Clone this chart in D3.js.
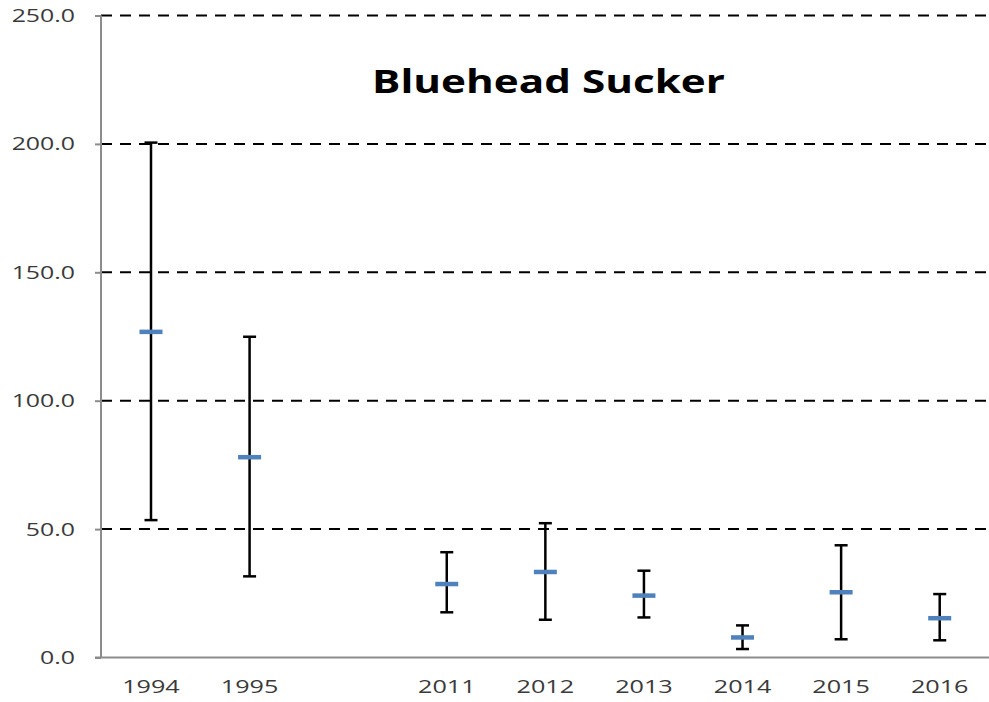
<!DOCTYPE html>
<html>
<head>
<meta charset="utf-8">
<script src="https://cdn.jsdelivr.net/npm/d3@7"></script>
<style>
  html, body { margin: 0; padding: 0; background: #ffffff; }
  svg { display: block; }
</style>
</head>
<body>
<svg id="chart" width="989" height="702"></svg>
<script>
// Bluehead Sucker: mean with upper/lower bounds per survey year
const categories = ["1994", "1995", "", "2011", "2012", "2013", "2014", "2015", "2016"];
const meanValues  = [126.9, 78.1, null, 28.7, 33.4, 24.2, 7.9, 25.5, 15.4];
const upperValues = [200.5, 124.9, null, 41.0, 52.3, 33.8, 12.5, 43.7, 24.7];
const lowerValues = [53.5, 31.6, null, 17.6, 14.7, 15.6, 3.3, 7.1, 6.7];
const yTicks = [0, 50, 100, 150, 200, 250];
const chartTitle = "Bluehead Sucker";

const rows = categories.map((c, i) => ({
  cat: c, mean: meanValues[i], hi: upperValues[i], lo: lowerValues[i]
})).filter(d => d.mean !== null);

const svg = d3.select("#chart");
const font = "'Open Sans', 'DejaVu Sans', sans-serif";

const x = d3.scaleBand().domain(categories).range([101.7, 989]);
const y = d3.scaleLinear().domain([0, 250]).range([657.5, 15.5]);

// dashed gridlines
svg.append("g")
  .selectAll("line")
  .data(yTicks.filter(t => t > 0))
  .join("line")
  .attr("x1", 101).attr("x2", 988)
  .attr("y1", d => y(d)).attr("y2", d => y(d))
  .attr("stroke", "#000").attr("stroke-width", 2)
  .attr("stroke-dasharray", "11,8");

// y axis
const yAxis = svg.append("g")
  .attr("transform", "translate(101,0)")
  .call(d3.axisLeft(y).tickValues(yTicks).tickSize(6).tickFormat(""));
yAxis.select(".domain").attr("stroke", "#8c8c8c").attr("stroke-width", 2)
  .attr("d", `M0,${y(250)}V${y(0)}`);
yAxis.selectAll(".tick line").attr("stroke", "#8c8c8c").attr("stroke-width", 2);

// y tick labels (wide letterforms)
svg.append("g")
  .selectAll("text")
  .data(yTicks)
  .join("text")
  .attr("transform", d => `translate(75,${y(d) + 6.5}) scale(1.38,1)`)
  .attr("text-anchor", "end")
  .attr("font-family", font).attr("font-size", 18)
  .attr("fill", "#3a3a3a")
  .text(d => d3.format(".1f")(d));

// x axis
const xAxis = svg.append("g")
  .attr("transform", `translate(0,${y(0)})`)
  .call(d3.axisBottom(x).tickSize(0).tickFormat(""));
xAxis.select(".domain").attr("stroke", "#8c8c8c").attr("stroke-width", 2)
  .attr("d", "M95,0H989");

// x tick labels
svg.append("g")
  .selectAll("text")
  .data(categories.filter(c => c !== ""))
  .join("text")
  .attr("transform", d => `translate(${x(d) + x.bandwidth() / 2},693) scale(1.36,1)`)
  .attr("text-anchor", "middle")
  .attr("font-family", font).attr("font-size", 18.5)
  .attr("fill", "#3a3a3a")
  .text(d => d);

// error bars
const cx = d => x(d.cat) + x.bandwidth() / 2;
const bars = svg.append("g").selectAll("g").data(rows).join("g");
bars.append("line")
  .attr("x1", cx).attr("x2", cx)
  .attr("y1", d => y(d.hi)).attr("y2", d => y(d.lo))
  .attr("stroke", "#000").attr("stroke-width", 2.5);
bars.append("line")
  .attr("x1", d => cx(d) - 6.5).attr("x2", d => cx(d) + 6.5)
  .attr("y1", d => y(d.hi)).attr("y2", d => y(d.hi))
  .attr("stroke", "#000").attr("stroke-width", 2.5);
bars.append("line")
  .attr("x1", d => cx(d) - 6.5).attr("x2", d => cx(d) + 6.5)
  .attr("y1", d => y(d.lo)).attr("y2", d => y(d.lo))
  .attr("stroke", "#000").attr("stroke-width", 2.5);

// mean markers
bars.append("rect")
  .attr("x", d => cx(d) - 11.5).attr("width", 23)
  .attr("y", d => y(d.mean) - 2).attr("height", 4.5)
  .attr("fill", "#4f81bd");

// title
svg.append("text")
  .attr("transform", `translate(548.5,93) scale(1.32,1)`)
  .attr("text-anchor", "middle")
  .attr("font-family", font).attr("font-weight", "bold").attr("font-size", 32)
  .attr("fill", "#000")
  .text(chartTitle);
</script>
</body>
</html>
